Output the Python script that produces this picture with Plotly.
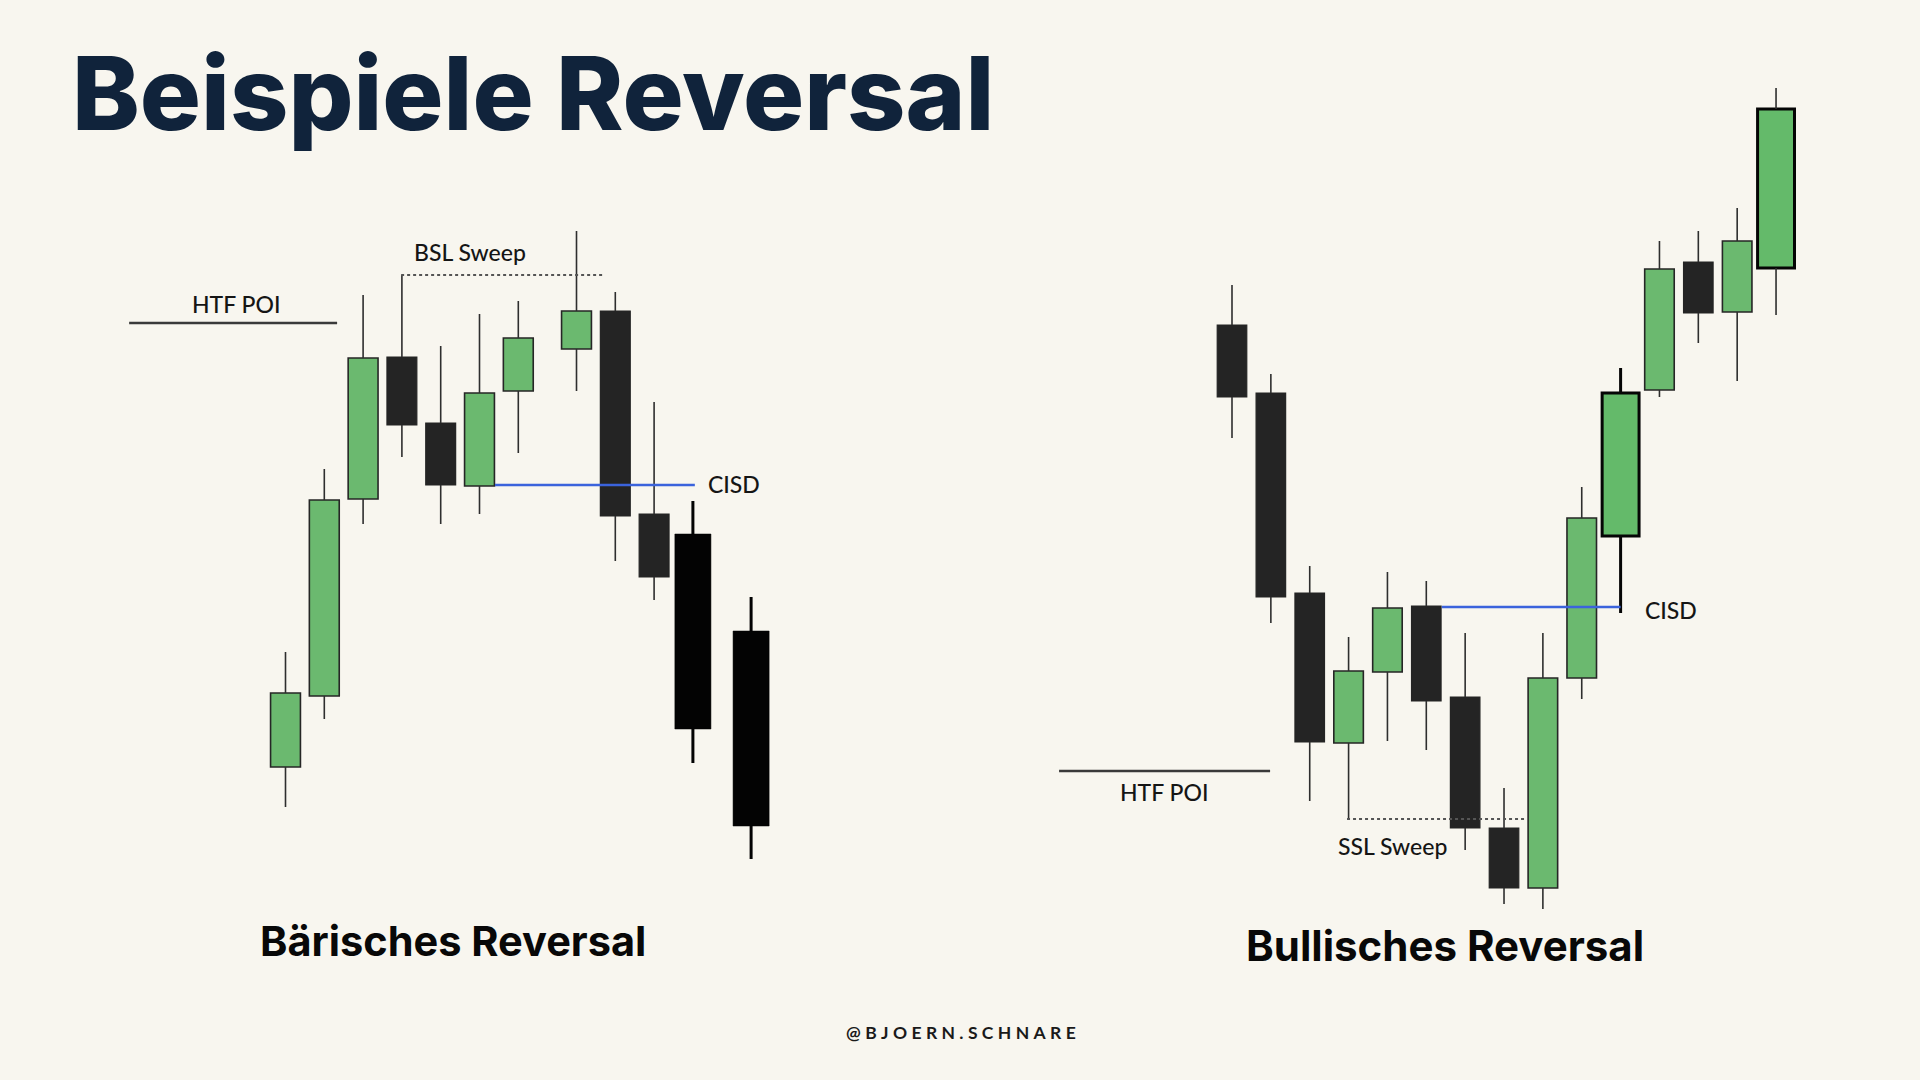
import plotly.graph_objects as go

W, H = 1920, 1080
BG = "#f8f6ef"

# ---------------- data ----------------
# Left chart: bearish reversal (bar positions, OHLC)
bear_x = [0, 1, 2, 3, 4, 5, 6, 7.5, 8.5, 9.5, 10.5, 12]
bear_open = [31.3, 38.4, 58.1, 72.3, 65.7, 59.4, 68.9, 73.1, 76.9, 56.6, 54.6, 44.9]
bear_high = [42.8, 61.1, 78.5, 80.5, 73.4, 76.6, 77.9, 84.9, 78.8, 67.8, 57.9, 48.3]
bear_low = [27.3, 36.1, 55.6, 62.3, 55.6, 56.6, 62.7, 68.9, 51.9, 48.0, 31.7, 22.1]
bear_close = [38.7, 58.0, 72.2, 65.5, 59.5, 68.7, 74.2, 76.9, 56.4, 50.3, 35.1, 25.4]
bear_htf_poi = 75.7
bear_bsl = 80.5
bear_cisd = 59.5

# Right chart: bullish reversal
bull_x = list(range(15))
bull_open = [75.5, 68.7, 48.7, 33.7, 40.8, 47.4, 38.3, 25.2, 19.2, 40.2, 54.4, 69.0, 81.8, 76.8, 81.2]
bull_high = [79.5, 70.6, 51.4, 44.3, 50.8, 49.9, 44.7, 29.2, 44.7, 59.3, 71.2, 83.9, 84.9, 87.2, 99.2]
bull_low = [64.2, 45.7, 27.9, 26.1, 33.9, 33.0, 23.0, 17.6, 17.1, 38.1, 46.7, 68.3, 73.7, 69.9, 76.5]
bull_close = [68.3, 48.3, 33.8, 40.9, 47.2, 37.9, 25.2, 19.2, 40.2, 56.2, 68.7, 81.1, 76.7, 83.9, 97.1]
bull_htf_poi = 30.9
bull_ssl = 26.1
bull_cisd = 47.3

title_text = "Beispiele Reversal"
bear_title = "Bärisches Reversal"
bull_title = "Bullisches Reversal"
footer_text = "@BJOERN.SCHNARE"

# ---------------- style ----------------
GREEN = "#6bb96f"
DARK = "#242424"
OUTLINE = "#262626"
BLUE = "#3b63dc"
bear_bold = [10, 11]      # solid black, wider
bull_bold = [10, 14]      # wide, thick outline
bull_bold_wick = [10]

fig = go.Figure()


def wicks(xs, o, h, l, c, idx, width, color, xaxis):
    X, Y = [], []
    for i in idx:
        top, bot = max(o[i], c[i]), min(o[i], c[i])
        X += [xs[i], xs[i], None, xs[i], xs[i], None]
        Y += [h[i], top, None, bot, l[i], None]
    fig.add_trace(go.Scatter(x=X, y=Y, mode="lines", line=dict(color=color, width=width),
                             xaxis=xaxis, yaxis="y", hoverinfo="skip", showlegend=False))


def bodies(xs, o, c, idx, width, fill, lcolor, lwidth, xaxis):
    if not idx:
        return
    fig.add_trace(go.Bar(x=[xs[i] for i in idx],
                         base=[min(o[i], c[i]) for i in idx],
                         y=[abs(c[i] - o[i]) for i in idx],
                         width=width,
                         marker=dict(color=fill, line=dict(color=lcolor, width=lwidth)),
                         xaxis=xaxis, yaxis="y", hoverinfo="skip", showlegend=False))


# left chart
n = len(bear_x)
norm = [i for i in range(n) if i not in bear_bold]
bodies(bear_x, bear_open, bear_close, [i for i in norm if bear_close[i] > bear_open[i]], 0.77, GREEN, OUTLINE, 1.6, "x")
bodies(bear_x, bear_open, bear_close, [i for i in norm if bear_close[i] <= bear_open[i]], 0.77, DARK, DARK, 1.2, "x")
bodies(bear_x, bear_open, bear_close, bear_bold, 0.93, "#030303", "#030303", 0.5, "x")
wicks(bear_x, bear_open, bear_high, bear_low, bear_close, norm, 1.6, "#2e2e2e", "x")
wicks(bear_x, bear_open, bear_high, bear_low, bear_close, bear_bold, 3, "#030303", "x")

# right chart
n = len(bull_x)
norm = [i for i in range(n) if i not in bull_bold]
bodies(bull_x, bull_open, bull_close, [i for i in norm if bull_close[i] > bull_open[i]], 0.76, GREEN, OUTLINE, 1.6, "x2")
bodies(bull_x, bull_open, bull_close, [i for i in norm if bull_close[i] <= bull_open[i]], 0.76, DARK, DARK, 1.2, "x2")
bodies(bull_x, bull_open, bull_close, bull_bold, 0.95, "#64ba6a", "#050505", 3, "x2")
wicks(bull_x, bull_open, bull_high, bull_low, bull_close, [i for i in range(n) if i not in bull_bold_wick], 1.6, "#2e2e2e", "x2")
wicks(bull_x, bull_open, bull_high, bull_low, bull_close, bull_bold_wick, 3, "#050505", "x2")

shapes = [
    dict(type="line", xref="x", yref="y", x0=-4.03, x1=1.33, y0=bear_htf_poi, y1=bear_htf_poi,
         line=dict(color="#3a3a3a", width=2.5)),
    dict(type="line", xref="x", yref="y", x0=2.98, x1=8.16, y0=bear_bsl, y1=bear_bsl,
         line=dict(color="#555555", width=2, dash="dot")),
    dict(type="line", xref="x", yref="y", x0=5.4, x1=10.55, y0=bear_cisd, y1=bear_cisd,
         line=dict(color=BLUE, width=2.5)),
    dict(type="line", xref="x2", yref="y", x0=-4.45, x1=0.98, y0=bull_htf_poi, y1=bull_htf_poi,
         line=dict(color="#3a3a3a", width=2.5)),
    dict(type="line", xref="x2", yref="y", x0=2.96, x1=7.59, y0=bull_ssl, y1=bull_ssl,
         line=dict(color="#555555", width=2, dash="dot")),
    dict(type="line", xref="x2", yref="y", x0=5.4, x1=10.0, y0=bull_cisd, y1=bull_cisd,
         line=dict(color=BLUE, width=2.5)),
]

LBL = dict(family="Lato", size=23, color="#151515", weight=500)
annotations = [
    dict(text="HTF POI", xref="x", yref="y", x=-1.28, y=77.6, showarrow=False, font=LBL),
    dict(text="BSL Sweep", xref="x", yref="y", x=4.75, y=82.8, showarrow=False, font=LBL),
    dict(text="CISD", xref="x", yref="y", x=10.84, y=59.6, showarrow=False, font=LBL, xanchor="left"),
    dict(text="HTF POI", xref="x2", yref="y", x=-1.75, y=28.8, showarrow=False, font=LBL),
    dict(text="SSL Sweep", xref="x2", yref="y", x=4.14, y=23.4, showarrow=False, font=LBL),
    dict(text="CISD", xref="x2", yref="y", x=10.58, y=47.0, showarrow=False, font=LBL, xanchor="left"),
    dict(text=title_text, xref="paper", yref="paper", x=70 / W, y=1 - 93 / H, xanchor="left", yanchor="middle",
         showarrow=False, font=dict(family="Inter", size=102, color="#10233b", weight=800)),
    dict(text=bear_title, xref="paper", yref="paper", x=453 / W, y=1 - 941 / H, xanchor="center", yanchor="middle",
         showarrow=False, font=dict(family="Inter", size=41.5, color="#080808", weight=700)),
    dict(text=bull_title, xref="paper", yref="paper", x=1445 / W, y=1 - 945 / H, xanchor="center", yanchor="middle",
         showarrow=False, font=dict(family="Inter", size=42, color="#080808", weight=700)),
    dict(text="\u2009\u2009".join(footer_text), xref="paper", yref="paper", x=961 / W, y=1 - 1032 / H,
         xanchor="center", yanchor="middle", showarrow=False,
         font=dict(family="Lato", size=17.5, color="#1a1a1a", weight=700)),
]

u_left = 38.8
u_right = 38.86
fig.update_layout(
    width=W, height=H, margin=dict(l=0, r=0, t=0, b=0),
    paper_bgcolor=BG, plot_bgcolor=BG,
    barmode="overlay", bargap=0,
    showlegend=False,
    xaxis=dict(domain=[0, 1], range=[-285.5 / u_left, (W - 285.5) / u_left], visible=False, fixedrange=True),
    xaxis2=dict(domain=[0, 1], range=[-1232 / u_right, (W - 1232) / u_right], visible=False,
                overlaying="x", anchor="y", fixedrange=True),
    yaxis=dict(domain=[0, 1], range=[0, 108], visible=False, fixedrange=True),
    shapes=shapes, annotations=annotations,
)

fig.write_html("out.html", include_plotlyjs=True, full_html=True,
               config=dict(displayModeBar=False, staticPlot=True),
               post_script="document.body.style.margin='0';")
